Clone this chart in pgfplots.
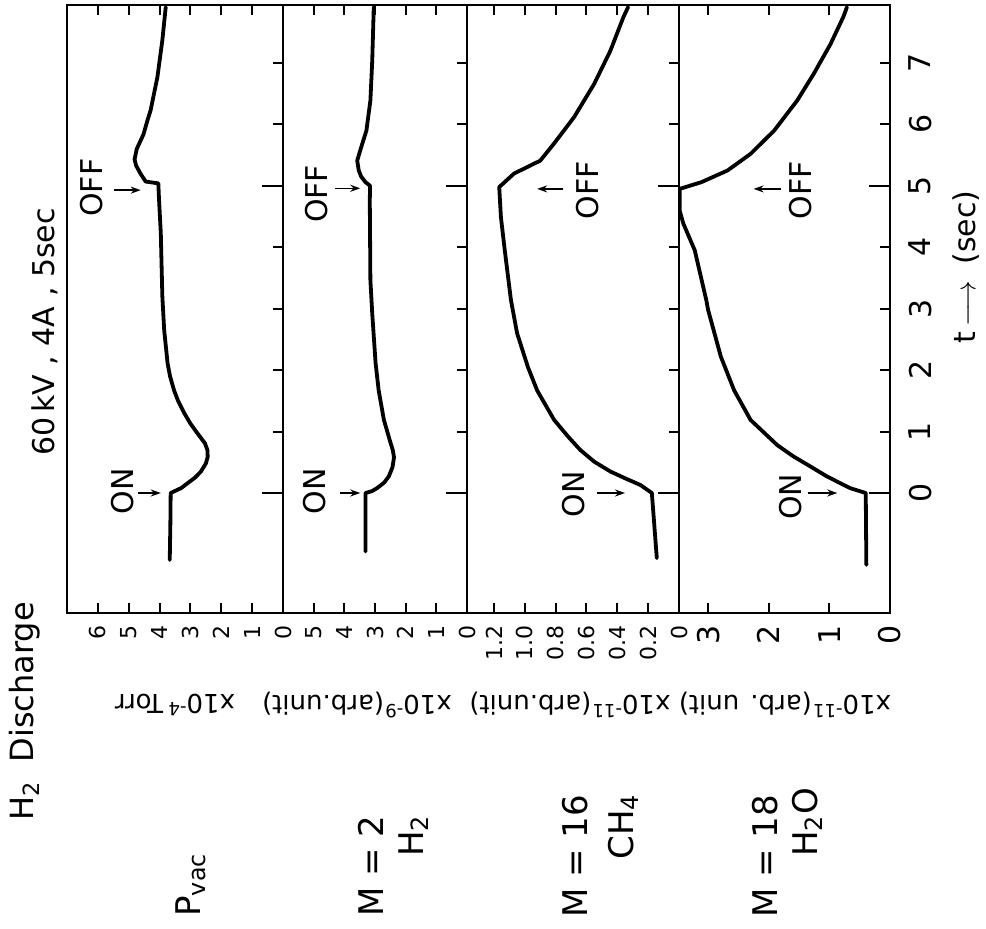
\documentclass[border=0pt]{standalone}
\usepackage{fontspec}
\setmainfont{DejaVu Sans}
\usepackage{pgfplots}
\pgfplotsset{compat=1.18}
\usetikzlibrary{arrows.meta}

\pgfplotsset{
  panel/.style={
    scale only axis, height=304pt, anchor=south west,
    ymin=-1.953, ymax=7.944,
    x dir=reverse, xmin=0,
    axis line style={line width=1.4pt},
    tick align=inside, xtick pos=both, xticklabel pos=lower,
    ytick pos=right,
    ytick={1,2,3,4,6,7}, yticklabels={},
    extra y ticks={0,5}, extra y tick labels={},
    extra y tick style={major tick length=10.5pt},
    major tick length=5pt,
    tick style={line width=1pt, black},
    xticklabel style={rotate=90, anchor=east, font=\fontsize{11}{11}\selectfont},
    xticklabel shift=2.5pt,
    /pgf/number format/assume math mode=true,
  },
  curve/.style={black, line width=1.9pt, line join=round, line cap=round},
}
\tikzset{
  lab/.style={rotate=90, font=\fontsize{15}{15}\selectfont, inner sep=0pt},
  arr/.style={-{Stealth[length=5pt,width=3.5pt]}, line width=0.8pt},
}

\begin{document}
\begin{tikzpicture}
\useasboundingbox (0,0) rectangle (493pt,464.5pt);

% ---------- P_vac ----------
\begin{axis}[panel, at={(33.5pt,158pt)}, width=108pt, xmax=7, xtick={0,1,2,3,4,5,6}]
\addplot[curve] coordinates {
(3.67,-1.09) (3.65,-0.5) (3.64,0) (3.30,0.08) (3.09,0.16) (2.85,0.25) (2.66,0.35) (2.50,0.48) (2.44,0.59) (2.45,0.70) (2.53,0.81) (2.77,0.97) (3.00,1.13) (3.20,1.30) (3.40,1.50) (3.53,1.67) (3.66,1.90) (3.74,2.11) (3.85,2.65) (3.91,3.2) (3.96,4.23) (4.02,4.8) (4.04,5.04)
(4.45,5.07) (4.62,5.2) (4.76,5.33) (4.81,5.43) (4.74,5.6) (4.52,5.84) (4.39,6.07) (4.29,6.23) (4.07,6.77) (3.91,7.37) (3.80,7.91)
};
\node[lab] at (axis cs:5.2,0.03) {ON};
\draw[arr] (axis cs:4.7,0) -- (axis cs:3.96,0);
\node[lab] at (axis cs:6.19,4.97) {OFF};
\draw[arr] (axis cs:5.49,4.93) -- (axis cs:4.61,4.93);
\end{axis}

% ---------- M=2 H2 ----------
\begin{axis}[panel, at={(141.5pt,158pt)}, width=92pt, xmax=6, xtick={0,1,2,3,4,5}]
\addplot[curve] coordinates {
(3.31,-0.95) (3.31,0) (3.10,0.03) (2.93,0.08) (2.70,0.17) (2.55,0.27) (2.43,0.42) (2.38,0.58) (2.42,0.70) (2.49,0.81) (2.71,1.19) (2.88,1.67) (2.98,2.11) (3.09,2.92) (3.15,3.46) (3.17,4.76) (3.16,5.0)
(3.31,5.06) (3.45,5.15) (3.53,5.25) (3.58,5.41) (3.48,5.58) (3.28,5.90) (3.15,6.39) (3.09,7.04) (3.04,7.91)
};
\node[lab] at (axis cs:4.98,0.03) {ON};
\draw[arr] (axis cs:4.13,0) -- (axis cs:3.48,0);
\node[lab] at (axis cs:4.92,4.87) {OFF};
\draw[arr] (axis cs:4.3,4.96) -- (axis cs:3.48,4.96);
\end{axis}

% ---------- M=16 CH4 ----------
\begin{axis}[panel, at={(233.5pt,158pt)}, width=106pt, xmax=1.375,
  xtick={0,0.2,0.4,0.6,0.8,1.0,1.2}, xticklabels={0,0.2,0.4,0.6,0.8,1.0,1.2}]
\addplot[curve] coordinates {
(0.144,-1.06) (0.176,0) (0.25,0.13) (0.35,0.24) (0.445,0.35) (0.55,0.51) (0.64,0.70) (0.72,0.92) (0.81,1.19) (0.92,1.67) (0.98,2.05) (1.05,2.60) (1.09,3.14) (1.13,3.95) (1.155,4.49) (1.166,4.98)
(1.07,5.20) (0.90,5.41) (0.81,5.69) (0.68,6.12) (0.55,6.66) (0.445,7.20) (0.36,7.75) (0.33,7.91)
};
\node[lab] at (axis cs:0.684,-0.02) {ON};
\draw[arr] (axis cs:0.53,0) -- (axis cs:0.35,0);
\node[lab] at (axis cs:0.59,4.93) {OFF};
\draw[arr] (axis cs:0.75,4.95) -- (axis cs:0.92,4.95);
\end{axis}

% ---------- M=18 H2O ----------
\begin{axis}[panel, at={(339.5pt,158pt)}, width=105.5pt, xmax=3.48, xtick={0,1,2,3},
  xticklabel style={font=\fontsize{15}{15}\selectfont},
  yticklabels={1,2,3,4,6,7}, extra y tick labels={0,5}, yticklabel pos=right,
  yticklabel style={rotate=90, anchor=north, font=\fontsize{15}{15}\selectfont},
  yticklabel shift=6pt]
\addplot[curve] coordinates {
(0.39,-1.17) (0.40,0) (0.66,0.08) (1.04,0.27) (1.31,0.43) (1.60,0.60) (1.86,0.78) (2.30,1.19) (2.57,1.67) (2.79,2.22) (3.00,2.98) (3.03,3.14) (3.22,3.95) (3.41,4.39) (3.47,4.6) (3.47,4.95)
(3.11,5.06) (2.68,5.25) (2.30,5.52) (1.91,5.90) (1.53,6.39) (1.26,6.82) (0.98,7.31) (0.77,7.75) (0.71,7.91)
};
\node[lab] at (axis cs:1.64,-0.06) {ON};
\draw[arr] (axis cs:1.36,0) -- (axis cs:0.87,0);
\node[lab] at (axis cs:1.48,4.93) {OFF};
\draw[arr] (axis cs:1.80,4.95) -- (axis cs:2.25,4.95);
\end{axis}

% ---------- texts ----------
\node[rotate=90, font=\fontsize{16}{16}\selectfont, inner sep=0pt] at (12.5pt,108.75pt) {H\textsubscript{2}\hspace{0.6em}Discharge};
\node[rotate=90, font=\fontsize{15}{15}\selectfont, inner sep=0pt] at (22.5pt,298.5pt) {60\,kV , 4A , 5sec};

\begin{scope}[font=\fontsize{17}{17}\selectfont]
\node[rotate=90, anchor=base west, inner sep=0pt] at (100pt,6pt) {P\textsubscript{vac}};
\node[rotate=90, anchor=base west, inner sep=0pt] at (191.5pt,6pt) {M = 2};
\node[rotate=90, anchor=base west, inner sep=0pt] at (211.5pt,36pt) {H\textsubscript{2}};
\node[rotate=90, anchor=base west, inner sep=0pt] at (293.5pt,5.5pt) {M = 16};
\node[rotate=90, anchor=base west, inner sep=0pt] at (316.5pt,34.5pt) {CH\textsubscript{4}};
\node[rotate=90, anchor=base west, inner sep=0pt] at (388.5pt,5.5pt) {M = 18};
\node[rotate=90, anchor=base west, inner sep=0pt] at (408.5pt,36pt) {H\textsubscript{2}O};
\end{scope}

\begin{scope}[font=\fontsize{13}{13}\selectfont]
\node[rotate=180, inner sep=0pt] at (87.5pt,112pt) {x10\textsuperscript{-4}\,Torr};
\node[rotate=180, inner sep=0pt] at (178.5pt,112pt) {x10\textsuperscript{-9}(arb.unit)};
\node[rotate=180, inner sep=0pt] at (285pt,112pt) {x10\textsuperscript{-11}(arb.unit)};
\node[rotate=180, inner sep=0pt] at (392.5pt,112pt) {x10\textsuperscript{-11}(arb. unit)};
\end{scope}

\node[rotate=90, font=\fontsize{15}{15}\selectfont, inner sep=0pt] at (483pt,331pt) {t\,$\longrightarrow$\hspace{8pt}(sec)};
\end{tikzpicture}
\end{document}
